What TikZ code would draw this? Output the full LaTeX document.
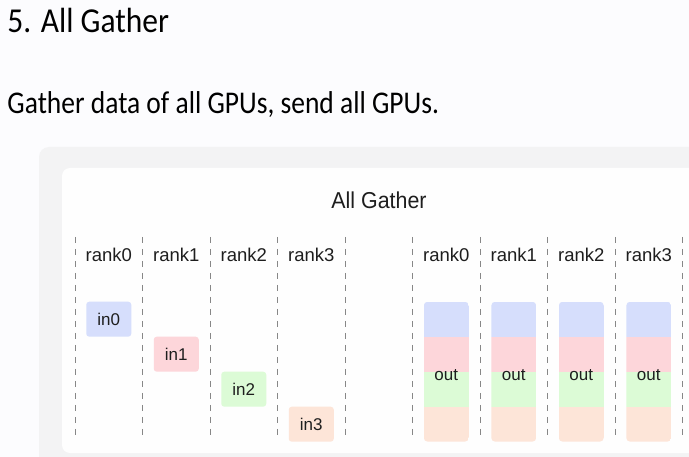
\documentclass[tikz,border=0pt]{standalone}
\usepackage{fontspec}
\setmainfont{Liberation Sans}
\newfontfamily\headfont{Carlito}
\usetikzlibrary{calc}
\definecolor{pagebg}{RGB}{252,252,254}
\definecolor{panelgrey}{RGB}{243,243,244}
\definecolor{panelwhite}{RGB}{254,254,254}
\definecolor{dashgrey}{RGB}{135,135,135}
\definecolor{textc}{RGB}{30,30,30}
\definecolor{blueC}{RGB}{214,222,252}
\definecolor{pinkC}{RGB}{253,214,218}
\definecolor{greenC}{RGB}{220,251,214}
\definecolor{peachC}{RGB}{253,229,216}
\tikzset{
  rankline/.style={draw=dashgrey, line width=1pt, dash pattern=on 6pt off 6pt},
  ranklabel/.style={anchor=base, inner sep=0pt, text=textc, font=\fontsize{18.5}{21}\selectfont},
  inbox/.style={minimum width=45pt, minimum height=35pt, rounded corners=3pt, inner sep=0pt, text=textc, font=\fontsize{17}{20}\selectfont},
  outbox/.style={minimum width=45pt, minimum height=140pt, rounded corners=4pt, inner sep=0pt,
    path picture={
      \begin{scope}[sharp corners]
      \fill[blueC] (path picture bounding box.north west) rectangle ($(path picture bounding box.north east)!0.25!(path picture bounding box.south east)$);
      \fill[pinkC] ($(path picture bounding box.north west)!0.25!(path picture bounding box.south west)$) rectangle ($(path picture bounding box.north east)!0.5!(path picture bounding box.south east)$);
      \fill[greenC] ($(path picture bounding box.north west)!0.5!(path picture bounding box.south west)$) rectangle ($(path picture bounding box.north east)!0.75!(path picture bounding box.south east)$);
      \fill[peachC] ($(path picture bounding box.north west)!0.75!(path picture bounding box.south west)$) rectangle (path picture bounding box.south east);
      \end{scope}
    }},
  outtext/.style={inner sep=0pt, text=textc, font=\fontsize{17}{20}\selectfont}
}
\begin{document}
\begin{tikzpicture}[x=1pt,y=-1pt]
\useasboundingbox (0,0) rectangle (689,457);
\clip (0,0) rectangle (689,457);
\fill[pagebg] (0,0) rectangle (689,457);
% panel
\fill[panelgrey, rounded corners=10pt] (39,147) rectangle (730,490);
\fill[panelwhite, rounded corners=8pt] (62,168) rectangle (720,453);
% headings
\node[anchor=base west, inner sep=0pt, text=black, font=\headfont\fontsize{35}{40}\selectfont] (title) at (7.3,32.7) {\scalebox{0.9}[1]{5. All Gather}};
\node[anchor=base west, inner sep=0pt, text=black, font=\headfont\fontsize{31.6}{36}\selectfont] (subtitle) at (7.3,113.3) {\scalebox{0.87}[1]{Gather data of all GPUs, send all GPUs.}};
\node[inner sep=0pt, text=textc, font=\fontsize{23}{26}\selectfont] (diagtitle) at (379,200) {\scalebox{0.93}[1]{All Gather}};
% dashed separators
\foreach \i/\x in {0/75,1/142.5,2/210,3/277.5,4/345,5/412.5,6/480,7/547.5,8/615,9/682.5}{
  \coordinate (lt\i) at (\x,237);
  \coordinate (lb\i) at (\x,440);
  \draw[rankline] (lt\i) -- (lb\i);
}
% rank labels
\foreach \i/\x in {0/108.75,1/176.25,2/243.75,3/311.25}{
  \node[ranklabel] (rl\i) at (\x,261.7) {rank\i};
}
\foreach \i/\x in {0/446.25,1/513.75,2/581.25,3/648.75}{
  \node[ranklabel] (rr\i) at (\x,261.7) {rank\i};
}
% inputs
\node[inbox, fill=blueC]  (in0) at (108.75,319.2) {in0};
\node[inbox, fill=pinkC]  (in1) at (176.25,354.2) {in1};
\node[inbox, fill=greenC] (in2) at (243.75,389.2) {in2};
\node[inbox, fill=peachC] (in3) at (311.25,424.2) {in3};
% outputs
\foreach \i/\x in {0/446.25,1/513.75,2/581.25,3/648.75}{
  \node[outbox] (out\i) at (\x,371.7) {};
  \node[outtext] (ot\i) at ([yshift=-3pt]out\i.center) {out};
}
\end{tikzpicture}
\end{document}
